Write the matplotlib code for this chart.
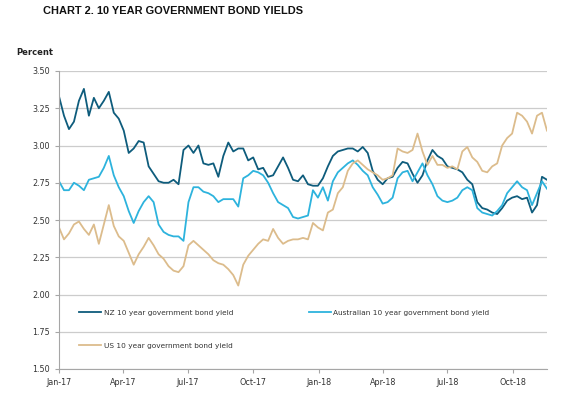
import matplotlib
matplotlib.use("Agg")
import matplotlib.pyplot as plt
import matplotlib.dates as mdates
import pandas as pd

# weekly readings, first week starting 1 Jan 2017
start_date = "2017-01-01"

nz_yield = [
    3.33, 3.20, 3.11, 3.16, 3.30, 3.38, 3.20, 3.32, 3.25, 3.30,
    3.36, 3.22, 3.18, 3.10, 2.95, 2.98, 3.03, 3.02, 2.86, 2.81,
    2.76, 2.75, 2.75, 2.77, 2.74, 2.97, 3.00, 2.95, 3.00, 2.88,
    2.87, 2.88, 2.79, 2.93, 3.02, 2.96, 2.98, 2.98, 2.90, 2.92,
    2.84, 2.85, 2.79, 2.80, 2.86, 2.92, 2.85, 2.77, 2.76, 2.80,
    2.74, 2.73, 2.73, 2.78, 2.86, 2.93, 2.96, 2.97, 2.98, 2.98,
    2.96, 2.99, 2.95, 2.83, 2.77, 2.74, 2.78, 2.79, 2.85, 2.89,
    2.88, 2.81, 2.75, 2.80, 2.90, 2.97, 2.93, 2.91, 2.86, 2.85,
    2.84, 2.82, 2.77, 2.74, 2.62, 2.58, 2.57, 2.55, 2.54, 2.58,
    2.63, 2.65, 2.66, 2.64, 2.65, 2.55, 2.60, 2.79, 2.77,
]

au_yield = [
    2.76, 2.70, 2.70, 2.75, 2.73, 2.70, 2.77, 2.78, 2.79, 2.85,
    2.93, 2.80, 2.72, 2.66, 2.56, 2.48, 2.56, 2.62, 2.66, 2.62,
    2.47, 2.42, 2.40, 2.39, 2.39, 2.36, 2.62, 2.72, 2.72, 2.69,
    2.68, 2.66, 2.62, 2.64, 2.64, 2.64, 2.59, 2.78, 2.80, 2.83,
    2.82, 2.80, 2.75, 2.68, 2.62, 2.60, 2.58, 2.52, 2.51, 2.52,
    2.53, 2.70, 2.65, 2.72, 2.63, 2.76, 2.82, 2.85, 2.88, 2.90,
    2.87, 2.83, 2.80, 2.72, 2.67, 2.61, 2.62, 2.65, 2.78, 2.82,
    2.83, 2.76, 2.82, 2.88, 2.80, 2.74, 2.66, 2.63, 2.62, 2.63,
    2.65, 2.70, 2.72, 2.70, 2.58, 2.55, 2.54, 2.53, 2.56, 2.60,
    2.68, 2.72, 2.76, 2.72, 2.70, 2.60, 2.68, 2.76, 2.71,
]

us_yield = [
    2.45, 2.37, 2.41, 2.47, 2.49, 2.44, 2.40, 2.47, 2.34, 2.47,
    2.60, 2.46, 2.39, 2.36, 2.28, 2.20, 2.27, 2.32, 2.38, 2.33,
    2.27, 2.24, 2.19, 2.16, 2.15, 2.19, 2.33, 2.36, 2.33, 2.30,
    2.27, 2.23, 2.21, 2.20, 2.17, 2.13, 2.06, 2.20, 2.26, 2.30,
    2.34, 2.37, 2.36, 2.44, 2.38, 2.34, 2.36, 2.37, 2.37, 2.38,
    2.37, 2.48, 2.45, 2.43, 2.55, 2.57, 2.68, 2.72, 2.83, 2.88,
    2.90, 2.87, 2.84, 2.82, 2.80, 2.77, 2.78, 2.80, 2.98, 2.96,
    2.95, 2.97, 3.08, 2.96, 2.87, 2.93, 2.87, 2.87, 2.85, 2.86,
    2.84, 2.96, 2.99, 2.92, 2.89, 2.83, 2.82, 2.86, 2.88, 3.00,
    3.05, 3.08, 3.22, 3.20, 3.16, 3.08, 3.20, 3.22, 3.10,
]

dates = pd.date_range(start_date, periods=len(nz_yield), freq="7D")

fig = plt.figure(figsize=(5.86, 4.0), dpi=100)
ax = fig.add_axes([0.1007, 0.0775, 0.8327, 0.745])

ax.plot(dates, nz_yield, color="#0e5c7c", lw=1.3, label="NZ 10 year government bond yield")
ax.plot(dates, au_yield, color="#2db3dd", lw=1.3, label="Australian 10 year government bond yield")
ax.plot(dates, us_yield, color="#dcbc8c", lw=1.3, label="US 10 year government bond yield")

ax.set_ylim(1.5, 3.5)
ax.set_yticks([1.5, 1.75, 2.0, 2.25, 2.5, 2.75, 3.0, 3.25, 3.5])
ax.yaxis.set_major_formatter(plt.FormatStrFormatter("%.2f"))
ax.set_xlim(pd.Timestamp(start_date), dates[-1])
ax.xaxis.set_major_locator(mdates.MonthLocator(bymonth=[1, 4, 7, 10]))
ax.xaxis.set_major_formatter(mdates.DateFormatter("%b-%y"))

ax.grid(axis="y", color="#cccccc", lw=0.9)
ax.set_axisbelow(True)
for side in ["top", "right"]:
    ax.spines[side].set_visible(False)
for side in ["left", "bottom"]:
    ax.spines[side].set_color("#a6a6a6")
    ax.spines[side].set_linewidth(0.8)
ax.tick_params(axis="both", labelsize=5.8, colors="#a6a6a6", labelcolor="#333333",
               length=3, width=0.8)

# legend: NZ and US in first column, Australian in second
h, l = ax.get_legend_handles_labels()
order = [0, 2, 1]
ax.legend([h[i] for i in order], [l[i] for i in order], ncol=2, frameon=False,
          fontsize=5.3, loc="upper left", bbox_to_anchor=(0.028, 0.222),
          handlelength=3.0, handletextpad=0.3, columnspacing=10.3,
          labelspacing=3.7, labelcolor="#333333")

fig.text(0.073, 0.985, "CHART 2. 10 YEAR GOVERNMENT BOND YIELDS", fontsize=7.9,
         fontfamily="Liberation Sans", fontweight="bold", va="top", ha="left",
         color="#111111")
fig.text(0.027, 0.868, "Percent", fontsize=6, fontweight="bold", va="center",
         ha="left", color="#222222")

fig.savefig("out.png", dpi=100)
